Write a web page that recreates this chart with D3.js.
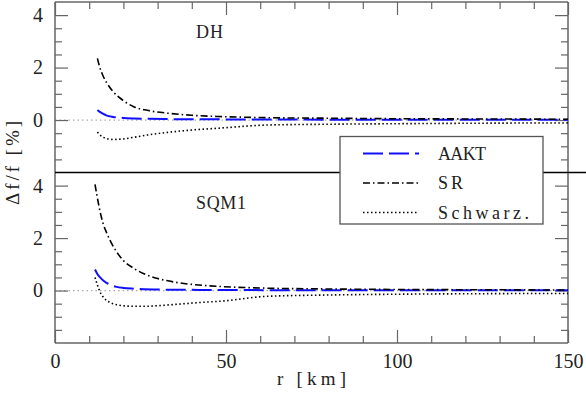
<!DOCTYPE html>
<html>
<head>
<meta charset="utf-8">
<script src="https://cdn.jsdelivr.net/npm/d3@7"></script>
<style>
  body { margin: 0; background: #fff; }
  text { font-family: "Liberation Serif", "DejaVu Serif", serif; fill: #222; }
</style>
</head>
<body>
<main></main>
<script>
const width = 586;
const height = 399;

const rTop = [12.4, 13, 14, 15, 17, 20, 23, 27, 33, 40, 49, 62, 80, 100, 125, 150];
const dhAAKT = [0.38, 0.32, 0.24, 0.18, 0.12, 0.08, 0.06, 0.045, 0.035, 0.03, 0.025, 0.02, 0.015, 0.012, 0.01, 0.01];
const dhSR = [2.35, 2.05, 1.7, 1.45, 1.08, 0.74, 0.51, 0.37, 0.26, 0.18, 0.13, 0.09, 0.07, 0.05, 0.04, 0.03];
const dhSchwarz = [-0.46, -0.55, -0.65, -0.7, -0.74, -0.72, -0.66, -0.57, -0.47, -0.38, -0.3, -0.19, -0.16, -0.14, -0.12, -0.11];

const rBot = [11.7, 12.3, 13.2, 14.1, 15.1, 16.1, 18, 20, 23, 26, 30, 35, 42, 49, 62, 80, 100, 125, 150];
const sqmAAKT = [0.8, 0.65, 0.5, 0.38, 0.29, 0.22, 0.14, 0.1, 0.07, 0.05, 0.04, 0.03, 0.025, 0.02, 0.015, 0.01, 0.01, 0.01, 0.01];
const sqmSR = [4.05, 3.6, 3.0, 2.54, 2.2, 1.91, 1.48, 1.14, 0.85, 0.64, 0.46, 0.32, 0.21, 0.15, 0.09, 0.06, 0.04, 0.03, 0.02];
const sqmSchwarz = [0.5, 0.25, -0.06, -0.25, -0.38, -0.46, -0.54, -0.58, -0.6, -0.6, -0.58, -0.53, -0.46, -0.4, -0.22, -0.17, -0.14, -0.12, -0.11];

const xMajor = [0, 50, 100, 150];
const yMajor = [0, 2, 4];
const legendNames = ["AAKT", "SR", "Schwarz."];

const styles = {
  AAKT: { color: "#1010ff", dash: "20,6", w: 2, tl: 48 },
  SR: { color: "#000", dash: "7,3,1.5,3", w: 1.6, tl: 25 },
  "Schwarz.": { color: "#000", dash: "1.5,2.5", w: 1.6, tl: 91 },
};

const panels = [
  { name: "DH", tl: 27, top: 2, bottom: 172.5, r: rTop, series: [dhAAKT, dhSR, dhSchwarz] },
  { name: "SQM1", tl: 50, top: 172.5, bottom: 343, r: rBot, series: [sqmAAKT, sqmSR, sqmSchwarz] },
];

const left = 55, right = 568;
const frameColor = "#666";
const fontSize = 18;

const svg = d3.select("main").append("svg")
  .attr("width", width)
  .attr("height", height)
  .attr("viewBox", `0 0 ${width} ${height}`);

const x = d3.scaleLinear().domain([0, 150]).range([left, right]);
const xMinor = d3.range(0, 151, 10).filter((v) => !xMajor.includes(v));

// the original font is set very wide, so stretch the spacing to its width
function fit(sel, w) {
  sel.attr("textLength", w).attr("lengthAdjust", "spacing");
}

function styleAxis(g) {
  g.select(".domain").remove();
  g.selectAll("line").attr("stroke", frameColor).attr("stroke-width", 1.2);
  g.selectAll("text").attr("font-size", 20).attr("fill", "#222")
    .style("font-family", '"Liberation Serif", serif');
}

panels.forEach((p, pi) => {
  const y = d3.scaleLinear().domain([-2, 4.5]).range([p.bottom, p.top]);
  const yMinor = d3.range(-1.5, 4.5, 0.5).filter((v) => !yMajor.includes(v));
  const g = svg.append("g");

  // zero line
  g.append("line")
    .attr("x1", left).attr("x2", right)
    .attr("y1", y(0)).attr("y2", y(0))
    .attr("stroke", "#aaa").attr("stroke-width", 1.2)
    .attr("stroke-dasharray", "1.5,3");

  // left axis
  g.append("g").attr("transform", `translate(${left},0)`)
    .call(d3.axisLeft(y).tickValues(yMajor).tickSize(-13).tickPadding(12).tickFormat(d3.format("d")))
    .call(styleAxis);
  g.append("g").attr("transform", `translate(${left},0)`)
    .call(d3.axisLeft(y).tickValues(yMinor).tickSize(-7).tickFormat(""))
    .call(styleAxis);
  // right axis
  g.append("g").attr("transform", `translate(${right},0)`)
    .call(d3.axisRight(y).tickValues(yMajor).tickSize(-13).tickFormat(""))
    .call(styleAxis);
  g.append("g").attr("transform", `translate(${right},0)`)
    .call(d3.axisRight(y).tickValues(yMinor).tickSize(-7).tickFormat(""))
    .call(styleAxis);

  if (pi === 0) {
    g.append("g").attr("transform", `translate(0,${p.top})`)
      .call(d3.axisTop(x).tickValues(xMajor).tickSize(-13).tickFormat(""))
      .call(styleAxis);
    g.append("g").attr("transform", `translate(0,${p.top})`)
      .call(d3.axisTop(x).tickValues(xMinor).tickSize(-7).tickFormat(""))
      .call(styleAxis);
  } else {
    g.append("g").attr("transform", `translate(0,${p.bottom})`)
      .call(d3.axisBottom(x).tickValues(xMajor).tickSize(-13).tickPadding(11).tickFormat(d3.format("d")))
      .call(styleAxis);
    g.append("g").attr("transform", `translate(0,${p.bottom})`)
      .call(d3.axisBottom(x).tickValues(xMinor).tickSize(-7).tickFormat(""))
      .call(styleAxis);
  }

  // frame
  g.append("path")
    .attr("d", `M${left},${p.bottom}V${p.top}M${right},${p.top}V${p.bottom}`)
    .attr("stroke", frameColor).attr("stroke-width", 1.5).attr("fill", "none");
  g.append("line").attr("x1", left).attr("x2", right)
    .attr("y1", pi === 0 ? p.top : p.bottom).attr("y2", pi === 0 ? p.top : p.bottom)
    .attr("stroke", frameColor).attr("stroke-width", 1.5);

  // curves
  const line = d3.line()
    .x((d) => x(d[0]))
    .y((d) => y(d[1]))
    .curve(d3.curveMonotoneX);
  p.series.forEach((vals, si) => {
    const st = styles[legendNames[si]];
    g.append("path")
      .datum(p.r.map((r, i) => [r, vals[i]]))
      .attr("d", line)
      .attr("fill", "none")
      .attr("stroke", st.color)
      .attr("stroke-width", st.w)
      .attr("stroke-dasharray", st.dash);
  });

  g.append("text")
    .attr("x", 196)
    .attr("y", p.top + 36)
    .attr("font-size", fontSize)
    .text(p.name)
    .call(fit, p.tl);
});

// panel separator
svg.append("line")
  .attr("x1", left).attr("x2", width)
  .attr("y1", 172.5).attr("y2", 172.5)
  .attr("stroke", "#000").attr("stroke-width", 1.3);

// legend
const legend = svg.append("g").attr("transform", "translate(340,136.5)");
legend.append("rect")
  .attr("width", 203).attr("height", 87.5)
  .attr("fill", "#fff").attr("stroke", "#555").attr("stroke-width", 1.3);
legendNames.forEach((name, i) => {
  const st = styles[name];
  const yy = 17 + i * 29.5;
  legend.append("line")
    .attr("x1", 23).attr("x2", 79)
    .attr("y1", yy).attr("y2", yy)
    .attr("stroke", st.color).attr("stroke-width", st.w)
    .attr("stroke-dasharray", st.dash);
  legend.append("text")
    .attr("x", 98).attr("y", yy + 6)
    .attr("font-size", fontSize)
    .text(name)
    .call(fit, st.tl);
});

// axis titles
svg.append("text")
  .attr("x", 277).attr("y", 385)
  .attr("font-size", fontSize + 1)
  .text("r [km]")
  .call(fit, 69);

svg.append("text")
  .attr("transform", "translate(19,205) rotate(-90)")
  .attr("font-size", fontSize + 1)
  .text("Δf/f [%]")
  .call(fit, 84);
</script>
</body>
</html>
